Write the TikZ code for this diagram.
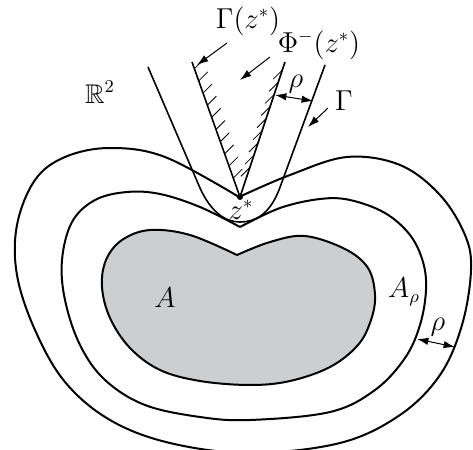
\documentclass[tikz,border=0pt]{standalone}
\usepackage{amsmath,amssymb}
\usepackage{tikz}
\usetikzlibrary{arrows.meta,calc}
\definecolor{SetGray}{HTML}{CDCED0}

\begin{document}
\begin{tikzpicture}[
x=0.5pt,y=-0.5pt,
font=\fontsize{13.5}{16}\selectfont,
every node/.style={inner sep=1pt},
level/.style={line width=1pt,line join=round},
ray/.style={line width=0.8pt},
hatch/.style={line width=0.4pt},
pointer/.style={-{Latex[length=2mm,width=1.3mm]},line width=0.5pt},
gap/.style={{Latex[length=2mm,width=1.3mm]}-{Latex[length=2mm,width=1.3mm]},line width=0.5pt}
]
\useasboundingbox (0,0) rectangle (473,450);
\clip (0,0) rectangle (473,450);

\coordinate (apex) at (240,197);
\coordinate (coneL) at (192,62);
\coordinate (coneR) at (285,62);

\draw[level,fill=SetGray] plot[smooth,tension=0.6] coordinates {(237,255) (270,242) (305,236) (345,249) (368,268) (375,295) (371,320) (358,345) (330,367) (290,381) (250,385) (200,381) (160,370) (130,348) (110,318) (102,287) (106,260) (122,240) (150,230) (190,235) (237,255)};
\draw[level] plot[smooth,tension=0.6] coordinates {(240,227) (280,208) (320,199) (350,200) (385,213) (410,235) (423,262) (426,290) (420,325) (405,358) (375,390) (330,412) (250,420) (200,417) (145,405) (105,380) (80,345) (65,300) (62,260) (72,222) (95,200) (127,192) (160,194) (200,207) (240,227)};
\draw[level] plot[smooth,tension=0.6] coordinates {(239,197) (290,175) (347,157) (400,165) (440,195) (465,235) (471,270) (462,325) (440,375) (400,415) (340,443) (250,453) (170,443) (110,420) (65,382) (35,330) (17,275) (17,225) (35,180) (65,157) (110,148) (165,157) (239,197)};

\draw[ray] (148,67) -- (200,188) .. controls (211,212) and (225,222) .. (240,222) .. controls (255,222) and (269,215) .. (279,190) -- (325,65);
\draw[ray] (coneL) -- (apex) -- (coneR);
\foreach \t in {0.05,0.14,...,0.86}
  \draw[hatch] ($(coneL)!\t!(apex)$) -- +(9,-9);
\foreach \t in {0.06,0.15,...,0.80}
  \draw[hatch] ($(coneR)!\t!(apex)$) -- +(-9,9);
\fill (apex) circle (3);

\node (plane) at (100,92) {$\mathbb{R}^2$};
\node (conelbl) at (248,21) {$\Gamma(z^*)$};
\node (philbl) at (319,45) {$\Phi^-(z^*)$};
\node (rhotop) at (296,84) {$\rho$};
\node (gammalbl) at (344,101) {$\Gamma$};
\node (zlbl) at (241,210) {$z^*$};
\node (setA) at (165,298) {$A$};
\node (setArho) at (404,292) {$A_\rho$};
\node (rhoside) at (438,327) {$\rho$};

\coordinate (conetail) at (227,43);
\coordinate (conetip) at (197,65);
\coordinate (phitail) at (270,57);
\coordinate (phitip) at (240,80);
\coordinate (gammatail) at (328,108);
\coordinate (gammatip) at (308,127);
\coordinate (rhoA) at (275,95);
\coordinate (rhoB) at (313,101);
\coordinate (rhoC) at (417,339);
\coordinate (rhoD) at (455,347);

\draw[pointer] (conetail) -- (conetip);
\draw[pointer] (phitail) -- (phitip);
\draw[pointer] (gammatail) -- (gammatip);
\draw[gap] (rhoA) -- (rhoB);
\draw[gap] (rhoC) -- (rhoD);
\end{tikzpicture}
\end{document}
